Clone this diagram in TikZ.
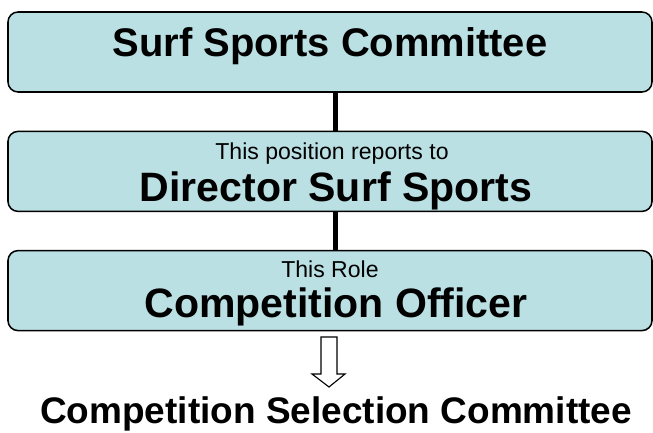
\documentclass[tikz,border=0pt]{standalone}
\usepackage{fontspec}
\setmainfont{Liberation Sans}
\usepackage{xcolor}
\definecolor{boxblue}{RGB}{186,224,228}

\begin{document}
\begin{tikzpicture}[
  orgbox/.style={draw=black, line width=1.1pt, fill=boxblue, rounded corners=0.25cm,
    minimum width=16.1cm, minimum height=2cm, inner sep=0pt},
  bigtext/.style={anchor=base, inner sep=0pt, font=\fontsize{28.4}{34}\selectfont\bfseries},
  smalltext/.style={anchor=base, inner sep=0pt, font=\fontsize{16.4}{20}\selectfont},
  link/.style={line width=3.6pt}
]
\useasboundingbox (0,0) rectangle (16.325,10.825);

% the three boxes
\node[orgbox] (sportscom) at (8.25,9.525) {};
\node[orgbox] (director) at (8.25,6.54) {};
\node[orgbox] (officer) at (8.25,3.56) {};

% reporting lines
\draw[link] ([xshift=0.14cm]sportscom.south) -- ([xshift=0.14cm]director.north);
\draw[link] ([xshift=0.14cm]director.south) -- ([xshift=0.14cm]officer.north);

% box texts
\node[bigtext] (sportstitle) at (8.25,9.4) {Surf Sports Committee};
\node[smalltext] (reportsto) at (8.3,6.825) {This position reports to};
\node[bigtext, font=\fontsize{29.2}{34}\selectfont\bfseries] (directortitle) at (8.4,5.775) {Director Surf Sports};
\node[smalltext] (thisrole) at (8.25,3.875) {This Role};
\node[bigtext, font=\fontsize{29.2}{34}\selectfont\bfseries] (officertitle) at (8.4,2.875) {Competition Officer};

% hollow arrow down
\draw[fill=white, line width=0.8pt] (8.025,2.4) -- (8.425,2.4) -- (8.425,1.475) -- (8.625,1.475)
  -- (8.225,1.15) -- (7.8,1.475) -- (8.025,1.475) -- cycle;

\node[bigtext, font=\fontsize{26.3}{32}\selectfont\bfseries] (selection) at (8.4,0.225) {Competition Selection Committee};
\end{tikzpicture}
\end{document}
